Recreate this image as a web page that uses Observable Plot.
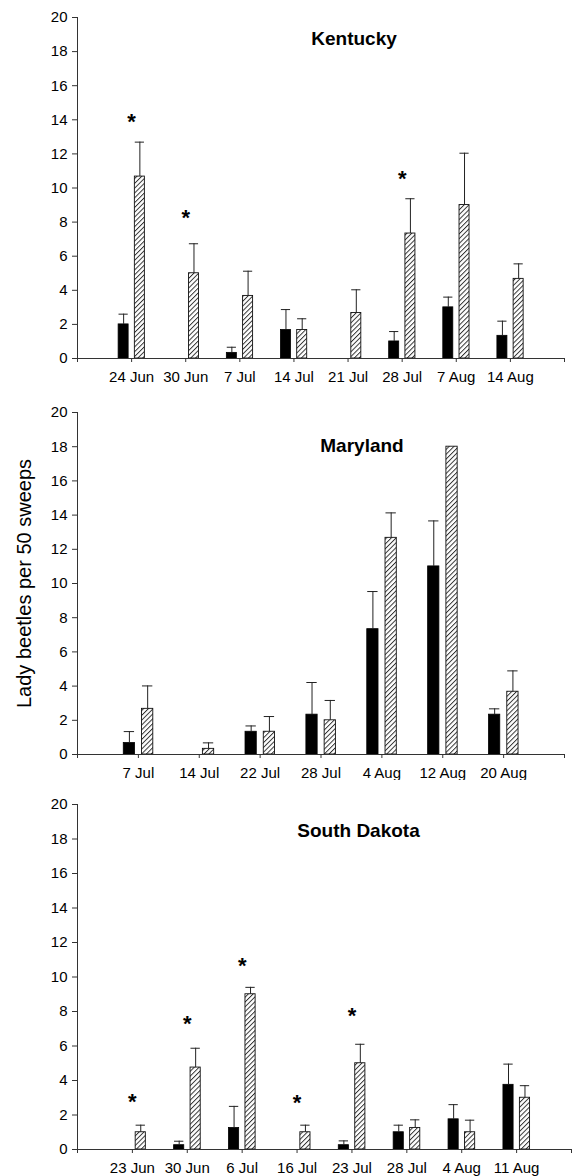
<!DOCTYPE html>
<html><head><meta charset="utf-8">
<script src="https://cdn.jsdelivr.net/npm/d3@7"></script>
<script src="https://cdn.jsdelivr.net/npm/@observablehq/plot@0.6"></script>
<style>
body{margin:0;background:#fff;}
#chart svg{display:block;}
</style>
</head><body><div id="chart"></div>
<script>
// ---------- Kentucky ----------
const kyDates = ["24 Jun","30 Jun","7 Jul","14 Jul","21 Jul","28 Jul","7 Aug","14 Aug"];
const kyBlack = [2.0, 0, 0.33, 1.67, 0, 1.0, 3.0, 1.33];
const kyBlackSE = [0.6, 0, 0.33, 1.2, 0, 0.58, 0.6, 0.86];
const kyHatched = [10.67, 5.0, 3.67, 1.67, 2.67, 7.33, 9.0, 4.67];
const kyHatchedSE = [2.02, 1.73, 1.45, 0.66, 1.36, 2.04, 3.04, 0.88];
const kyStars = ["24 Jun","30 Jun","28 Jul"];
const kyStarY = [14.2, 8.6, 10.9];

// ---------- Maryland ----------
const mdDates = ["7 Jul","14 Jul","22 Jul","28 Jul","4 Aug","12 Aug","20 Aug"];
const mdBlack = [0.67, 0, 1.33, 2.33, 7.33, 11.0, 2.33];
const mdBlackSE = [0.67, 0, 0.34, 1.88, 2.2, 2.66, 0.34];
const mdHatched = [2.67, 0.33, 1.33, 2.0, 12.67, 18.0, 3.67];
const mdHatchedSE = [1.34, 0.35, 0.89, 1.16, 1.46, 0, 1.22];
const mdStars = [];
const mdStarY = [];

// ---------- South Dakota ----------
const sdDates = ["23 Jun","30 Jun","6 Jul","16 Jul","23 Jul","28 Jul","4 Aug","11 Aug"];
const sdBlack = [0, 0.25, 1.25, 0, 0.25, 1.0, 1.75, 3.75];
const sdBlackSE = [0, 0.23, 1.25, 0, 0.25, 0.41, 0.85, 1.2];
const sdHatched = [1.0, 4.75, 9.0, 1.0, 5.0, 1.25, 1.0, 3.0];
const sdHatchedSE = [0.41, 1.12, 0.4, 0.41, 1.1, 0.47, 0.7, 0.7];
const sdStars = ["23 Jun","30 Jun","6 Jul","16 Jul","23 Jul"];
const sdStarY = [3.1, 7.6, 11.0, 3.05, 8.1];

const yTicks = d3.range(0, 21, 2);
const yLabel = "Lady beetles per 50 sweeps";
const FONT = "'Liberation Sans', Arial, Helvetica, sans-serif";
const HATCH = "#fe01fe";

function panel(o) {
  const n = o.dates.length;
  const rows = o.dates.map((d, i) => ({
    i: i + 1, d,
    black: o.black[i], bse: o.blackSE[i],
    hatched: o.hatched[i], hse: o.hatchedSE[i]
  }));
  const starRows = o.stars.map((d, k) => ({i: o.dates.indexOf(d) + 1, y: o.starY[k]}));
  const bC = r => r.i - 0.1475;
  const hC = r => r.i + 0.1525;
  const bRows = rows.filter(r => r.black > 0);
  const hRows = rows.filter(r => r.hatched > 0);
  const bErr = rows.filter(r => r.bse > 0);
  const hErr = rows.filter(r => r.hse > 0);
  const marks = [
    Plot.rect(bRows, {x1: r => r.i - 0.24, x2: r => r.i - 0.055, y1: 0, y2: "black", fill: "#000", stroke: "#000", strokeWidth: 0.8}),
    Plot.rect(hRows, {x1: r => r.i + 0.06, x2: r => r.i + 0.245, y1: 0, y2: "hatched", fill: HATCH, stroke: "#111", strokeWidth: 0.9}),
    Plot.ruleX(bErr, {x: bC, y1: "black", y2: r => r.black + r.bse, stroke: "#222", strokeWidth: 1}),
    Plot.ruleY(bErr, {y: r => r.black + r.bse, x1: r => bC(r) - 0.085, x2: r => bC(r) + 0.085, stroke: "#222", strokeWidth: 1}),
    Plot.ruleX(hErr, {x: hC, y1: "hatched", y2: r => r.hatched + r.hse, stroke: "#222", strokeWidth: 1}),
    Plot.ruleY(hErr, {y: r => r.hatched + r.hse, x1: r => hC(r) - 0.085, x2: r => hC(r) + 0.085, stroke: "#222", strokeWidth: 1}),
    Plot.text(starRows, {x: "i", y: "y", text: () => "*", fontSize: 22, fontWeight: "bold", dy: 6, fill: "#000"}),
    Plot.ruleY([0], {stroke: "#333"}),
    Plot.ruleX([0], {y1: 0, y2: 20, stroke: "#333"}),
    Plot.axisY({ticks: yTicks, tickSize: 5, tickPadding: 5, label: null, fontSize: 15, stroke: "#333", fill: "#000"}),
    Plot.axisX({ticks: d3.range(0, n + 2), tickFormat: i => o.dates[i - 1] ?? "", tickSize: 4, tickPadding: 9, label: null, fontSize: 15, stroke: "#333", fill: "#000"}),
    Plot.text([o.title], {frameAnchor: "top", textAnchor: "middle", lineAnchor: "top", dx: o.titleDx, dy: o.titleDy, fontSize: 19, fontWeight: "bold", fill: "#000"})
  ];
  if (o.showYLabel) {
    marks.push(Plot.text([yLabel], {frameAnchor: "left", rotate: -90, textAnchor: "middle", lineAnchor: "middle", dx: -53, fontSize: 20, fill: "#000"}));
  }
  const svg = Plot.plot({
    width: 573,
    height: o.height,
    marginLeft: 77,
    marginRight: o.marginRight,
    marginTop: o.marginTop,
    marginBottom: o.marginBottom,
    x: {type: "linear", domain: [0, n + 1]},
    y: {domain: [0, 20]},
    style: {fontFamily: FONT, fontSize: "15px", background: "#fff", color: "#000"},
    marks
  });
  const ns = "http://www.w3.org/2000/svg";
  const defs = document.createElementNS(ns, "defs");
  const pid = "hatch-" + o.id;
  defs.innerHTML = `<pattern id="${pid}" patternUnits="userSpaceOnUse" width="3.4" height="3.4" patternTransform="rotate(45)"><rect width="3.4" height="3.4" fill="#fff"/><line x1="0.5" y1="0" x2="0.5" y2="3.4" stroke="#222" stroke-width="0.9"/></pattern>`;
  svg.insertBefore(defs, svg.firstChild);
  svg.querySelectorAll(`[fill="${HATCH}"]`).forEach(el => el.setAttribute("fill", `url(#${pid})`));
  return svg;
}

const chart = document.getElementById("chart");
chart.appendChild(panel({id: "ky", title: "Kentucky", dates: kyDates, black: kyBlack, blackSE: kyBlackSE, hatched: kyHatched, hatchedSE: kyHatchedSE, stars: kyStars, starY: kyStarY, height: 390, marginTop: 17, marginBottom: 32, marginRight: 9, titleDx: 33, titleDy: 14}));
chart.appendChild(panel({id: "md", title: "Maryland", dates: mdDates, black: mdBlack, blackSE: mdBlackSE, hatched: mdHatched, hatchedSE: mdHatchedSE, stars: mdStars, starY: mdStarY, height: 390, marginTop: 22, marginBottom: 26, marginRight: 9, titleDx: 41, titleDy: 26, showYLabel: true}));
chart.appendChild(panel({id: "sd", title: "South Dakota", dates: sdDates, black: sdBlack, blackSE: sdBlackSE, hatched: sdHatched, hatchedSE: sdHatchedSE, stars: sdStars, starY: sdStarY, height: 396, marginTop: 24, marginBottom: 27, marginRight: 2, titleDx: 34, titleDy: 19}));
</script>
</body></html>
